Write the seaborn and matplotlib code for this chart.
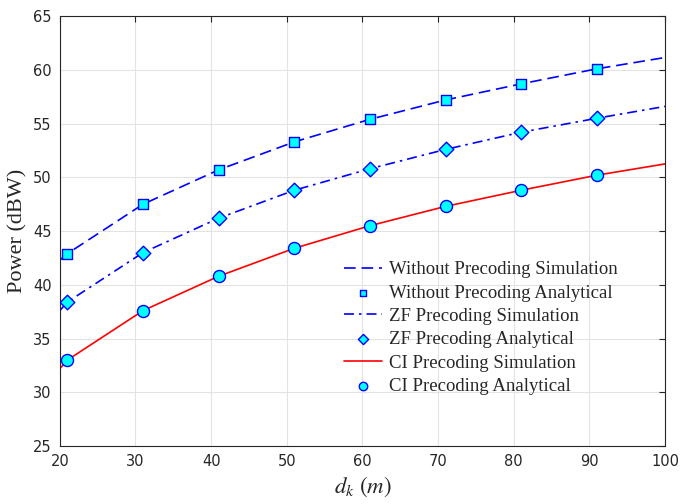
import pandas as pd
import matplotlib.pyplot as plt
import seaborn as sns

# Distâncias (m)
d_sim = [20, 21, 31, 41, 51, 61, 71, 81, 91, 100]
d_ana = [21, 31, 41, 51, 61, 71, 81, 91]

# Simulação (linhas)
sim_without = [42.3, 42.9, 47.5, 50.7, 53.3, 55.4, 57.2, 58.7, 60.1, 61.15]
sim_zf = [37.6, 38.4, 43.0, 46.2, 48.8, 50.8, 52.6, 54.2, 55.5, 56.6]
sim_ci = [32.2, 33.0, 37.6, 40.8, 43.4, 45.5, 47.3, 48.8, 50.2, 51.25]

# Analítico (marcadores)
ana_without = [42.9, 47.5, 50.7, 53.3, 55.4, 57.2, 58.7, 60.1]
ana_zf = [38.4, 43.0, 46.2, 48.8, 50.8, 52.6, 54.2, 55.5]
ana_ci = [33.0, 37.6, 40.8, 43.4, 45.5, 47.3, 48.8, 50.2]

sns.set_theme(style="whitegrid")
plt.rcParams['font.family'] = ['DejaVu Sans']
plt.rcParams['mathtext.fontset'] = 'stix'

df_sim = pd.DataFrame({'d': d_sim, 'wo': sim_without, 'zf': sim_zf, 'ci': sim_ci})
df_ana = pd.DataFrame({'d': d_ana, 'wo': ana_without, 'zf': ana_zf, 'ci': ana_ci})

fig = plt.figure(figsize=(6.8, 5.04), dpi=100)
ax = fig.add_axes([0.088, 0.115, 0.89, 0.853])

blue = '#0000ff'
cyan = '#00ffff'

sns.lineplot(data=df_sim, x='d', y='wo', ax=ax, color=blue, lw=1.2,
             linestyle=(0, (7, 3.5)), label='Without Precoding Simulation')
sns.scatterplot(data=df_ana, x='d', y='wo', ax=ax, marker='s', s=50, color=cyan,
                edgecolor=blue, linewidth=1.0, zorder=5, label='Without Precoding Analytical')
sns.lineplot(data=df_sim, x='d', y='zf', ax=ax, color=blue, lw=1.2,
             linestyle=(0, (6, 3, 1.5, 3)), label='ZF Precoding Simulation')
sns.scatterplot(data=df_ana, x='d', y='zf', ax=ax, marker='D', s=55, color=cyan,
                edgecolor=blue, linewidth=1.0, zorder=5, label='ZF Precoding Analytical')
sns.lineplot(data=df_sim, x='d', y='ci', ax=ax, color='#ff0000', lw=1.2,
             label='CI Precoding Simulation')
sns.scatterplot(data=df_ana, x='d', y='ci', ax=ax, marker='o', s=75, color=cyan,
                edgecolor=blue, linewidth=1.0, zorder=5, label='CI Precoding Analytical')

ax.set_xlim(20, 100)
ax.set_ylim(25, 65)
ax.set_xticks(range(20, 101, 10))
ax.set_yticks(range(25, 66, 5))
ax.grid(True, color='#e3e3e3', lw=0.8)
for s in ax.spines.values():
    s.set_color('#262626')
    s.set_linewidth(0.8)
ax.tick_params(direction='in', length=4, width=0.8, colors='#262626',
               top=True, right=True, labelsize=10.5, pad=6)
for lab in ax.get_xticklabels() + ax.get_yticklabels():
    lab.set_color('#262626')

ax.set_xlabel(r'$d_k\ (m)$', fontsize=16.5, family='Liberation Serif', labelpad=4)
ax.set_ylabel('Power (dBW)', fontsize=16, family='Liberation Serif', labelpad=4)

leg = ax.legend(loc='upper left', bbox_to_anchor=(0.47, 0.43), frameon=False,
                prop={'family': 'Liberation Serif', 'size': 13.5}, handlelength=2.0,
                handletextpad=0.4, labelspacing=0.33, borderaxespad=0, borderpad=0,
                markerscale=0.7)

fig.savefig('out.png', dpi=100)
